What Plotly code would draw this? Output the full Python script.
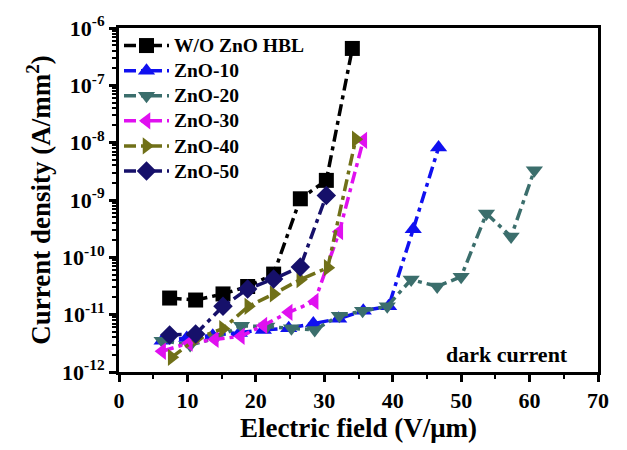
import plotly.graph_objects as go

# ---- data ----
names = ["W/O ZnO HBL", "ZnO-10", "ZnO-20", "ZnO-30", "ZnO-40", "ZnO-50"]

x_wo = [7.4, 11.2, 15.2, 18.8, 22.6, 26.5, 30.3, 34.1]
y_wo = [1.95e-11, 1.8e-11, 2.3e-11, 3.1e-11, 5.1e-11, 1.05e-9, 2.2e-9, 4.4e-7]

x_10 = [6.3, 9.9, 13.7, 17.6, 21.1, 24.8, 28.4, 32.1, 35.7, 39.4, 43.0, 46.7]
y_10 = [3.5e-12, 3.9e-12, 4.3e-12, 4.8e-12, 5.4e-12, 5.8e-12, 7.0e-12, 8.5e-12,
        1.17e-11, 1.4e-11, 3.1e-10, 8.2e-9]

x_20 = [6.3, 10.4, 14.1, 17.9, 21.6, 25.2, 28.6, 32.2, 35.6, 39.2, 42.7, 46.5,
        50.0, 53.7, 57.3, 60.7]
y_20 = [3.5e-12, 2.95e-12, 3.9e-12, 6.4e-12, 6.2e-12, 5.8e-12, 5.4e-12, 9.6e-12,
        1.17e-11, 1.4e-11, 4.1e-11, 3.1e-11, 4.6e-11, 5.8e-10, 2.3e-10, 3.3e-9]

x_30 = [6.3, 10.2, 14.0, 17.8, 21.1, 24.8, 28.6, 32.2, 35.7]
y_30 = [2.3e-12, 3.2e-12, 3.7e-12, 4.2e-12, 6.5e-12, 1.1e-11, 1.7e-11, 2.8e-10, 1.1e-8]

x_40 = [7.7, 11.4, 15.2, 18.9, 22.6, 26.5, 30.5, 34.6]
y_40 = [1.8e-12, 3.9e-12, 5.7e-12, 1.4e-11, 2.3e-11, 4.1e-11, 6.6e-11, 1.15e-8]

x_50 = [7.4, 11.2, 15.2, 18.8, 22.6, 26.5, 30.3]
y_50 = [4.4e-12, 4.6e-12, 1.4e-11, 2.8e-11, 4.2e-11, 6.8e-11, 1.2e-9]

xs = [x_wo, x_10, x_20, x_30, x_40, x_50]
ys = [y_wo, y_10, y_20, y_30, y_40, y_50]

colors = ["#000000", "#1010F0", "#3B6E6C", "#E010F0", "#707018", "#16106A"]
symbols = ["square", "triangle-up", "triangle-down", "triangle-left",
           "triangle-right", "diamond"]

y_tickvals = [1e-12, 1e-11, 1e-10, 1e-9, 1e-8, 1e-7, 1e-6]
y_ticktext = ["10<sup>-12</sup>", "10<sup>-11</sup>", "10<sup>-10</sup>",
              "10<sup>-9</sup>", "10<sup>-8</sup>", "10<sup>-7</sup>", "10<sup>-6</sup>"]
x_tickvals = [0, 10, 20, 30, 40, 50, 60, 70]

FONT = "Liberation Serif"

fig = go.Figure()
for n, x, y, c, s in zip(names, xs, ys, colors, symbols):
    fig.add_trace(go.Scatter(
        x=x, y=y, name=f'<span style="font-size:19.5px">{n}</span>',
        mode="lines+markers",
        line=dict(color=c, width=3.5, dash="12px,5px,4px,5px"),
        marker=dict(symbol=s, size=15, color=c),
    ))

fig.update_layout(
    width=627, height=450,
    margin=dict(l=119, r=29, t=22, b=75),
    plot_bgcolor="white", paper_bgcolor="white",
    font=dict(family=FONT, color="black"),
    showlegend=True,
    legend=dict(
        x=0.0, y=1.0, xanchor="left", yanchor="top",
        bgcolor="rgba(0,0,0,0)",
        font=dict(family=FONT, size=17, color="black", weight="bold"),
        tracegroupgap=0, itemsizing="trace", itemwidth=45,
    ),
    annotations=[dict(
        text="<b>dark current</b>", x=0.942, y=0.01, xref="paper", yref="paper",
        xanchor="right", yanchor="bottom", showarrow=False,
        font=dict(family=FONT, size=22, color="black"),
    )],
)

fig.update_xaxes(
    range=[0, 70], tickvals=x_tickvals,
    ticks="outside", ticklen=7, tickwidth=3, tickcolor="black",
    minor=dict(ticks="outside", ticklen=4, tickwidth=2, tickcolor="black", dtick=5),
    showline=True, linecolor="black", linewidth=3, mirror=True,
    showgrid=False, zeroline=False,
    tickfont=dict(family=FONT, size=22, color="black", weight="bold"),
    title=dict(text="Electric field (V/μm)", standoff=6,
               font=dict(family=FONT, size=27, color="black", weight="bold")),
)
fig.update_yaxes(
    type="log", range=[-12, -6], tickvals=y_tickvals, ticktext=y_ticktext,
    ticks="outside", ticklen=7, tickwidth=3, tickcolor="black",
    minor=dict(ticks="outside", ticklen=4, tickwidth=1.5, tickcolor="black", dtick="D1"),
    showline=True, linecolor="black", linewidth=3, mirror=True,
    showgrid=False, zeroline=False,
    tickfont=dict(family=FONT, size=22, color="black", weight="bold"),
    title=dict(text="Current density (A/mm<sup>2</sup>)", standoff=4,
               font=dict(family=FONT, size=27, color="black", weight="bold")),
)

fig.write_html("out.html")
